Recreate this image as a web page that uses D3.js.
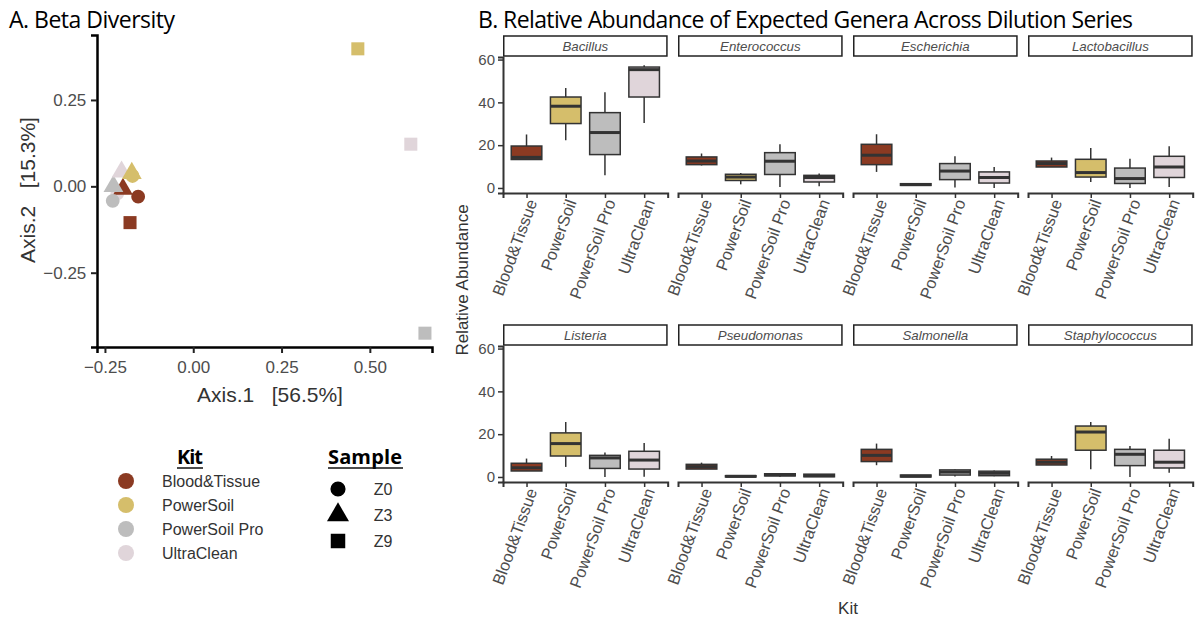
<!DOCTYPE html>
<html>
<head>
<meta charset="utf-8">
<script src="https://cdn.jsdelivr.net/npm/d3@7"></script>
<style>
  body { margin: 0; background: #fff; }
  text { font-family: "Liberation Sans", Arial, sans-serif; }
</style>
</head>
<body>
<svg id="chart"></svg>
<script>
// ---- data ----
const kits = ["Blood&Tissue", "PowerSoil", "PowerSoil Pro", "UltraClean"];
const kitColors = ["#8b3a22", "#d5be6b", "#bdbdbd", "#e0d5da"];
const samples = ["Z0", "Z3", "Z9"];

// PCoA points (draw order)
const pcoaKit = ["UltraClean", "PowerSoil", "Blood&Tissue", "PowerSoil Pro", "UltraClean", "PowerSoil",
  "PowerSoil Pro", "Blood&Tissue", "Blood&Tissue", "PowerSoil", "PowerSoil Pro", "UltraClean"];
const pcoaSample = ["Z0", "Z0", "Z3", "Z3", "Z3", "Z3", "Z0", "Z0", "Z9", "Z9", "Z9", "Z9"];
const pcoaAxis1 = [-0.215, -0.172, -0.199, -0.226, -0.203, -0.174, -0.228, -0.156, -0.179, 0.466, 0.656, 0.616];
const pcoaAxis2 = [-0.02, 0.03, -0.008, 0.0, 0.042, 0.038, -0.042, -0.030, -0.105, 0.398, -0.425, 0.122];
const pcoaXTicks = [-0.25, 0, 0.25, 0.5];
const pcoaYTicks = [-0.25, 0, 0.25];

// Boxplot stats: genus-major, kits in order within each genus
const genera = ["Bacillus", "Enterococcus", "Escherichia", "Lactobacillus",
  "Listeria", "Pseudomonas", "Salmonella", "Staphylococcus"];
const whiskerLow = [13.3, 22.3, 5.9, 30.4, 10.5, 1.7, 0.5, 0.8, 7.5, 1.0, 0.2, 0.0, 9.8, 2.8, 0.0, 0.5,
  2.8, 4.7, 0.0, 0.1, 3.7, 0.0, 0.1, 0.0, 5.5, 0.0, 0.2, 0.3, 5.6, 3.6, 0.0, 2.0];
const q1 = [13.3, 30.1, 15.6, 42.5, 10.9, 3.5, 6.3, 2.8, 10.9, 1.2, 3.9, 2.3, 9.8, 5.1, 2.1, 4.9,
  2.8, 9.8, 4.0, 3.7, 3.7, 0.0, 0.5, 0.1, 7.2, 0.0, 0.9, 0.6, 5.6, 12.5, 5.3, 4.2];
const median = [14.3, 38.2, 25.9, 55.3, 12.6, 5.1, 12.5, 4.9, 15.3, 1.6, 7.9, 4.9, 11.4, 7.2, 4.4, 9.8,
  4.3, 15.6, 8.9, 7.9, 4.8, 0.3, 1.0, 0.6, 10.1, 0.4, 2.3, 1.7, 6.9, 21.0, 10.6, 6.9];
const q3 = [19.6, 42.5, 35.2, 56.5, 14.5, 6.4, 16.5, 5.9, 20.4, 2.0, 11.4, 7.5, 12.6, 13.4, 9.3, 14.8,
  6.4, 20.6, 10.1, 12.0, 5.9, 0.6, 1.5, 1.3, 12.9, 0.9, 3.3, 2.7, 8.3, 23.8, 12.9, 12.5];
const whiskerHigh = [25.0, 46.7, 44.7, 57.3, 16.1, 7.0, 20.4, 6.8, 25.1, 2.2, 14.8, 9.8, 14.2, 18.7, 13.7, 19.5,
  8.6, 25.7, 11.4, 15.9, 6.7, 0.6, 1.6, 1.3, 15.6, 0.9, 3.5, 3.0, 9.8, 25.7, 14.5, 17.9];
const abundanceTicks = [0, 20, 40, 60];

// ---- setup ----
const width = 1195, height = 626;
const svg = d3.select("#chart").attr("width", width).attr("height", height);
const color = d3.scaleOrdinal().domain(kits).range(kitColors);
const shape = d3.scaleOrdinal().domain(samples).range([d3.symbolCircle, d3.symbolTriangle, d3.symbolSquare]);
const shapeSize = { Z0: 150, Z3: 170, Z9: 170 };
const titleFont = '"Open Sans", "Noto Sans", sans-serif';

// ---- A. Beta diversity ----
svg.append("text")
  .attr("x", 9).attr("y", 28)
  .attr("font-size", 23).style("font-family", titleFont)
  .attr("textLength", 166)
  .attr("fill", "#000")
  .text("A. Beta Diversity");

const pa = { left: 97, right: 432, top: 35, bottom: 347 };
const x = d3.scaleLinear().domain([-0.2725, 0.676]).range([pa.left, pa.right]);
const y = d3.scaleLinear().domain([-0.465, 0.438]).range([pa.bottom, pa.top]);

const gx = svg.append("g")
  .attr("transform", "translate(0," + pa.bottom + ")")
  .call(d3.axisBottom(x).tickValues(pcoaXTicks).tickFormat(d3.format(".2f")).tickSizeOuter(0).tickSize(6));
const gy = svg.append("g")
  .attr("transform", "translate(" + pa.left + ",0)")
  .call(d3.axisLeft(y).tickValues(pcoaYTicks).tickFormat(d3.format(".2f")).tickSizeOuter(0).tickSize(6));
[gx, gy].forEach(g => {
  g.select(".domain").attr("stroke", "#000").attr("stroke-width", 2.5);
  g.selectAll(".tick line").attr("stroke", "#222").attr("stroke-width", 2);
  g.selectAll(".tick text").attr("fill", "#4d4d4d").attr("font-size", 17)
    .style("font-family", '"Liberation Sans", Arial, sans-serif');
});
gx.selectAll(".tick text").attr("dy", "1.0em");
gy.selectAll(".tick text").attr("dx", "-0.1em");

svg.append("g").selectAll("path")
  .data(pcoaKit.map((k, i) => ({ kit: k, sample: pcoaSample[i], a1: pcoaAxis1[i], a2: pcoaAxis2[i] })))
  .join("path")
  .attr("transform", d => "translate(" + x(d.a1) + "," + y(d.a2) + ")")
  .attr("d", d => d3.symbol().type(shape(d.sample)).size(shapeSize[d.sample])())
  .attr("fill", d => color(d.kit));

svg.append("text")
  .attr("x", 270).attr("y", 402)
  .attr("text-anchor", "middle").attr("font-size", 21).attr("fill", "#333")
  .attr("xml:space", "preserve")
  .text("Axis.1   [56.5%]");
svg.append("text")
  .attr("transform", "translate(35,190) rotate(-90)")
  .attr("text-anchor", "middle").attr("font-size", 21).attr("fill", "#333")
  .attr("xml:space", "preserve")
  .text("Axis.2   [15.3%]");

// legends
const legKit = svg.append("g");
legKit.append("text").attr("x", 190).attr("y", 464).attr("text-anchor", "middle")
  .attr("font-size", 20).attr("font-weight", "bold").style("font-family", titleFont)
  .attr("textLength", 26).text("Kit");
legKit.append("line").attr("x1", 177).attr("x2", 203).attr("y1", 468).attr("y2", 468)
  .attr("stroke", "#111").attr("stroke-width", 1.5);
legKit.selectAll("circle").data(kits).join("circle")
  .attr("cx", 126).attr("cy", (d, i) => 481 + i * 24).attr("r", 8)
  .attr("fill", d => color(d));
legKit.selectAll("text.lab").data(kits).join("text").attr("class", "lab")
  .attr("x", 162).attr("y", (d, i) => 481 + i * 24).attr("dy", "0.35em")
  .attr("font-size", 16).attr("fill", "#333").text(d => d);

const legSample = svg.append("g");
legSample.append("text").attr("x", 365).attr("y", 464).attr("text-anchor", "middle")
  .attr("font-size", 20).attr("font-weight", "bold").style("font-family", titleFont)
  .attr("textLength", 74).text("Sample");
legSample.append("line").attr("x1", 328).attr("x2", 403).attr("y1", 468).attr("y2", 468)
  .attr("stroke", "#111").attr("stroke-width", 1.5);
legSample.selectAll("path").data(samples).join("path")
  .attr("transform", (d, i) => "translate(338," + (489 + i * 26) + ")")
  .attr("d", d => d3.symbol().type(shape(d)).size(d === "Z0" ? 180 : 210)())
  .attr("fill", "#000");
legSample.selectAll("text.lab").data(samples).join("text").attr("class", "lab")
  .attr("x", 383).attr("y", (d, i) => 489 + i * 26).attr("dy", "0.35em")
  .attr("text-anchor", "middle").attr("font-size", 16).attr("fill", "#333").text(d => d);

// ---- B. Relative abundance ----
svg.append("text")
  .attr("x", 478).attr("y", 28)
  .attr("font-size", 23).style("font-family", titleFont)
  .attr("textLength", 655)
  .attr("fill", "#000")
  .text("B. Relative Abundance of Expected Genera Across Dilution Series");

const colX = d3.scaleBand().domain([0, 1, 2, 3]).range([503, 1192.7]).paddingInner(0.059);
const rowTop = [57, 346];
const panelH = 136, stripH = 21;
const yb = d3.scaleLinear().domain([-2.35, 61.2]).range([panelH, 0]);
const kx = d3.scalePoint().domain(kits).range([0, colX.bandwidth()]).padding(0.6);
const boxW = kx.step() * 0.78;

genera.forEach((genus, gi) => {
  const col = gi % 4, row = Math.floor(gi / 4);
  const g = svg.append("g").attr("transform", "translate(" + colX(col) + "," + rowTop[row] + ")");
  const pw = colX.bandwidth();

  // strip
  g.append("rect").attr("x", 0.75).attr("y", -stripH).attr("width", pw - 1.5).attr("height", stripH - 1)
    .attr("fill", "#fff").attr("stroke", "#222").attr("stroke-width", 1.5);
  g.append("text").attr("x", pw / 2).attr("y", -stripH / 2 - 0.5).attr("dy", "0.35em")
    .attr("text-anchor", "middle").attr("font-size", 13.3).attr("font-style", "italic")
    .attr("fill", "#4d4d4d").text(genus);

  // boxes
  const rows = kits.map((k, ki) => {
    const i = gi * 4 + ki;
    return { kit: k, lo: whiskerLow[i], q1: q1[i], med: median[i], q3: q3[i], hi: whiskerHigh[i] };
  });
  const bx = g.append("g").selectAll("g").data(rows).join("g")
    .attr("transform", d => "translate(" + kx(d.kit) + ",0)");
  bx.append("line").attr("y1", d => yb(d.hi)).attr("y2", d => yb(d.lo))
    .attr("stroke", "#333").attr("stroke-width", 1.5);
  bx.append("rect").attr("x", -boxW / 2).attr("width", boxW)
    .attr("y", d => yb(d.q3)).attr("height", d => Math.max(yb(d.q1) - yb(d.q3), 0.5))
    .attr("fill", d => color(d.kit)).attr("stroke", "#333").attr("stroke-width", 1.5);
  bx.append("line").attr("x1", -boxW / 2).attr("x2", boxW / 2)
    .attr("y1", d => yb(d.med)).attr("y2", d => yb(d.med))
    .attr("stroke", "#333").attr("stroke-width", 3);

  // x axis
  const ax = g.append("g").attr("transform", "translate(0," + panelH + ")")
    .call(d3.axisBottom(kx).tickSizeOuter(0).tickSize(5));
  ax.select(".domain").attr("stroke", "#333").attr("stroke-width", 2);
  ax.selectAll(".tick line").attr("stroke", "#333").attr("stroke-width", 1.5);
  ax.selectAll(".tick text")
    .attr("fill", "#4d4d4d").attr("font-size", 16.5)
    .attr("text-anchor", "end")
    .attr("transform", "translate(5,7) rotate(-70)")
    .attr("dx", 0).attr("dy", "0.35em").attr("y", 0).attr("x", 0);

  // y axis on first column only
  if (col === 0) {
    const ay = g.append("g").call(d3.axisLeft(yb).tickValues(abundanceTicks).tickSizeOuter(0).tickSize(5));
    ay.select(".domain").attr("stroke", "#333").attr("stroke-width", 2);
    ay.selectAll(".tick line").attr("stroke", "#333").attr("stroke-width", 1.5);
    ay.selectAll(".tick text").attr("fill", "#4d4d4d").attr("font-size", 15);
  }
});

svg.append("text")
  .attr("transform", "translate(468,280) rotate(-90)")
  .attr("text-anchor", "middle").attr("font-size", 17).attr("fill", "#333")
  .text("Relative Abundance");
svg.append("text")
  .attr("x", 848).attr("y", 614)
  .attr("text-anchor", "middle").attr("font-size", 17).attr("fill", "#333")
  .text("Kit");
</script>
</body>
</html>
